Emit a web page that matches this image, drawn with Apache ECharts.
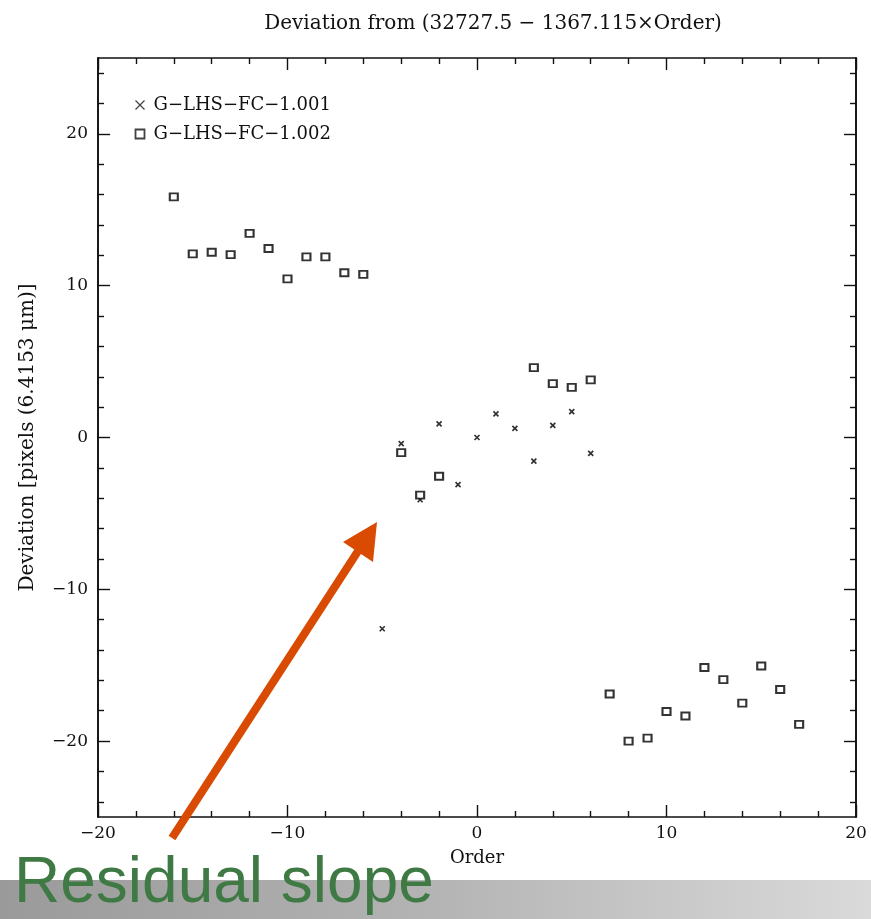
<!DOCTYPE html>
<html><head><meta charset="utf-8">
<script src="https://cdn.jsdelivr.net/npm/echarts@6/dist/echarts.min.js"></script>
<style>html,body{margin:0;padding:0;background:#fff}#c{width:871px;height:919px}</style>
</head><body><div id="c"></div>
<script>
const titleText = 'Deviation from (32727.5 \u2212 1367.115\u00d7Order)';
const xName = 'Order';
const yName = 'Deviation [pixels (6.4153 \u03bcm)]';
const seriesNames = ['G\u2212LHS\u2212FC\u22121.001', 'G\u2212LHS\u2212FC\u22121.002'];
const crossOrders = [-5, -4, -3, -2, -1, 0, 1, 2, 3, 4, 5, 6];
const crossDev = [-12.6, -0.4, -4.1, 0.9, -3.1, 0.0, 1.55, 0.6, -1.55, 0.8, 1.7, -1.05];
const squareOrders = [-16, -15, -14, -13, -12, -11, -10, -9, -8, -7, -6, -4, -3, -2, 3, 4, 5, 6, 7, 8, 9, 10, 11, 12, 13, 14, 15, 16, 17];
const squareDev = [15.85, 12.1, 12.2, 12.05, 13.45, 12.45, 10.45, 11.9, 11.9, 10.85, 10.75, -1.0, -3.8, -2.55, 4.6, 3.55, 3.3, 3.8, -16.9, -20.0, -19.8, -18.05, -18.35, -15.15, -15.95, -17.5, -15.05, -16.6, -18.9];
const xTicks = [-20, -10, 0, 10, 20];
const yTicks = [-20, -10, 0, 10, 20];
const yMinorTicks = [-24, -22, -18, -16, -14, -12, -8, -6, -4, -2, 2, 4, 6, 8, 12, 14, 16, 18, 22, 24];
const annotationText = 'Residual slope';

const chart = echarts.init(document.getElementById('c'), null, {renderer: 'canvas'});
const F = 'DejaVu Serif';
const ink = '#111';
const fmt = v => String(v).replace('-', '\u2212');
const lineS = {color: ink, width: 1.6};
const tickS = {color: ink, width: 1.4};
function xAx(pos, show) {
  const a = {type: 'value', min: -20, max: 20, interval: 10, position: pos,
    axisLine: {show: true, onZero: false, lineStyle: lineS},
    axisTick: {show: true, inside: true, length: 12, lineStyle: tickS},
    minorTick: {show: true, splitNumber: 5, length: 6, lineStyle: tickS},
    splitLine: {show: false},
    axisLabel: {show: show, color: ink, fontFamily: F, fontSize: 17, margin: 8, formatter: fmt}};
  if (show) Object.assign(a, {name: xName, nameLocation: 'middle', nameGap: 32,
    nameTextStyle: {fontFamily: F, fontSize: 18, color: ink}});
  return a;
}
function yAx(pos, show, minor) {
  const a = {type: 'value', min: -25, max: 25, position: pos, offset: 0,
    axisLine: {show: true, onZero: false, lineStyle: lineS},
    axisTick: {show: true, inside: true, length: minor ? 6 : 12, lineStyle: tickS,
      customValues: minor ? yMinorTicks : yTicks},
    splitLine: {show: false},
    axisLabel: {show: show, color: ink, fontFamily: F, fontSize: 17, margin: 10,
      customValues: yTicks, formatter: fmt}};
  if (show) Object.assign(a, {name: yName, nameLocation: 'middle', nameGap: 60, nameRotate: 90,
    nameTextStyle: {fontFamily: F, fontSize: 20, color: ink}});
  return a;
}
const crossPath = 'path://M0,0L10,10M10,0L0,10';
chart.setOption({
  animation: false,
  title: {text: titleText, left: 488, textAlign: 'center', top: 9,
    textStyle: {fontFamily: F, fontSize: 20, fontWeight: 'normal', color: ink}},
  grid: {left: 98, right: 15, top: 58, bottom: 102},
  legend: {orient: 'vertical', left: 128, top: 91, itemGap: 11, itemWidth: 9, itemHeight: 9,
    textStyle: {fontFamily: F, fontSize: 18, color: ink, padding: [0, 0, 0, 4]},
    data: [
      {name: seriesNames[0], icon: crossPath, itemStyle: {color: 'none', borderColor: ink, borderWidth: 1.2}},
      {name: seriesNames[1], icon: 'rect', itemStyle: {color: '#fff', borderColor: ink, borderWidth: 1.8}}
    ]},
  xAxis: [xAx('bottom', true), xAx('top', false)],
  yAxis: [yAx('left', true, false), yAx('left', false, true), yAx('right', false, false), yAx('right', false, true)],
  series: [
    {name: seriesNames[0], type: 'scatter', symbol: crossPath, symbolSize: 5,
      itemStyle: {color: 'none', borderColor: '#000', borderWidth: 1.7},
      data: crossOrders.map((x, i) => [x, crossDev[i]])},
    {name: seriesNames[1], type: 'scatter', symbol: 'rect', symbolSize: [8, 7],
      itemStyle: {color: '#fff', borderColor: '#000', borderWidth: 2},
      data: squareOrders.map((x, i) => [x, squareDev[i]])}
  ],
  graphic: [
    {type: 'rect', left: 0, top: 880, z: 100, shape: {width: 871, height: 39},
      style: {fill: new echarts.graphic.LinearGradient(0, 0, 1, 0, [
        {offset: 0, color: '#9a9a9a'}, {offset: 0.5, color: '#b4b4b4'}, {offset: 1, color: '#dadada'}])}},
    {type: 'text', left: 14, top: 852, z: 101,
      style: {text: annotationText, fill: '#3f7a45', font: '64px "Liberation Sans", Arial, sans-serif'}},
    {type: 'line', z: 102, shape: {x1: 172, y1: 838, x2: 360, y2: 548},
      style: {stroke: '#d94a02', lineWidth: 8}},
    {type: 'polygon', z: 102, shape: {points: [[377, 522], [343, 542], [373, 562]]},
      style: {fill: '#d94a02'}}
  ]
});
</script></body></html>
